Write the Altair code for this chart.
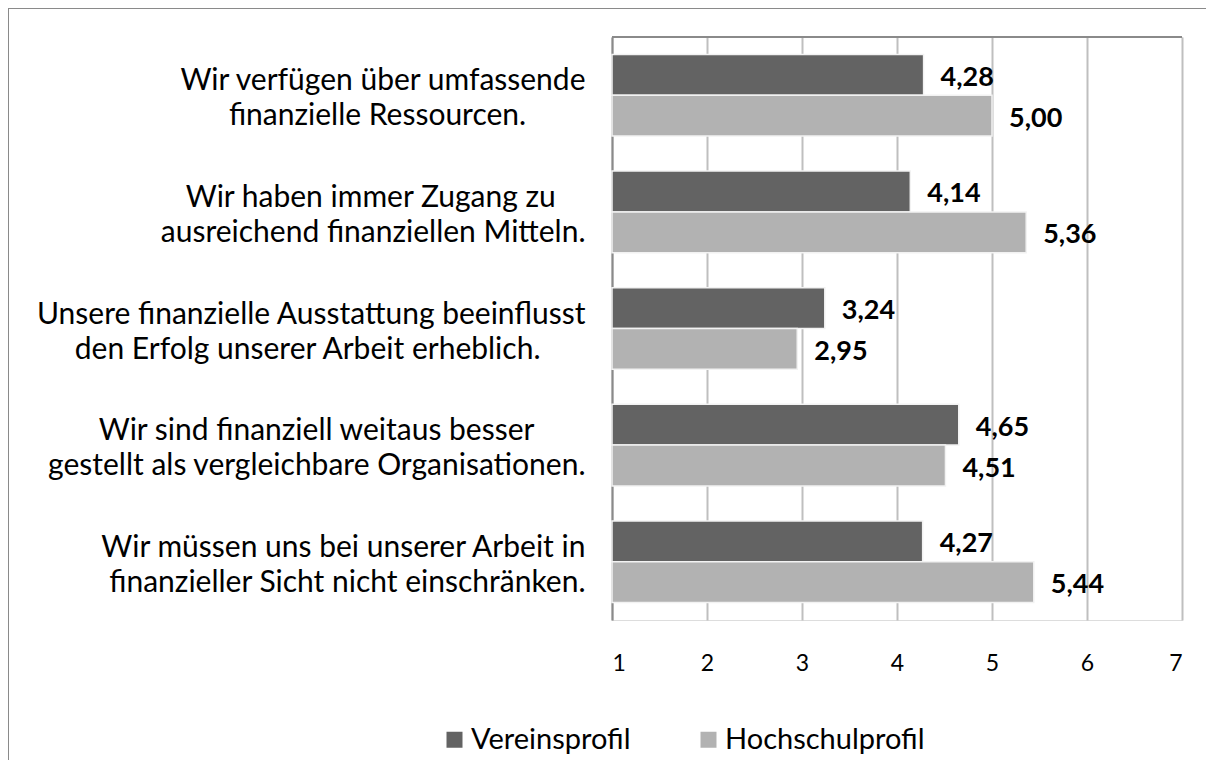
import altair as alt
import pandas as pd

# ---- data ----
statements = [
    "Wir verfügen über umfassende|finanzielle Ressourcen.",
    "Wir haben immer Zugang zu|ausreichend finanziellen Mitteln.",
    "Unsere finanzielle Ausstattung beeinflusst|den Erfolg unserer Arbeit erheblich.",
    "Wir sind finanziell weitaus besser|gestellt als vergleichbare Organisationen.",
    "Wir müssen uns bei unserer Arbeit in|finanzieller Sicht nicht einschränken.",
]
series_names = ["Vereinsprofil", "Hochschulprofil"]
verein = [4.28, 4.14, 3.24, 4.65, 4.27]
hochschul = [5.00, 5.36, 2.95, 4.51, 5.44]
x_ticks = [1, 2, 3, 4, 5, 6, 7]
series_colors = ["#636363", "#b2b2b2"]

# layout only: trailing blank characters so the two lines of each label look centred
# each entry: ((nbsp, blank) for line 1, (nbsp, blank) for line 2)
line_pad = [
    ((0, 0), (2, 2)),
    ((1, 1), (0, 0)),
    ((0, 0), (3, 1)),
    ((1, 2), (0, 0)),
    ((0, 0), (0, 0)),
]
NB, BLANK, ZW = "\u00a0", "\u2800", "\u200b"


def pad(n, m):
    if n == 0 and m == 0:
        return ""
    return NB * n + (BLANK * m if m else ZW)


def padded(s, pads):
    a, b = s.split("|")
    return a + pad(*pads[0]) + "|" + b + pad(*pads[1])


labels_txt = [padded(s, p) for s, p in zip(statements, line_pad)]

rows = []
for i, s in enumerate(labels_txt):
    rows.append({"statement": s, "series": series_names[0], "value": verein[i]})
    rows.append({"statement": s, "series": series_names[1], "value": hochschul[i]})
df = pd.DataFrame(rows)

W, H = 570, 583
FONT = "Lato"

y_enc = alt.Y(
    "statement:N",
    sort=labels_txt,
    title=None,
    scale=alt.Scale(paddingInner=0.3, paddingOuter=0.15),
    axis=alt.Axis(
        labelExpr="split(datum.label, '|')",
        labelAlign="right",
        labelBaseline="middle",
        labelFontSize=30,
        labelLineHeight=35,
        labelPadding=27,
        labelOffset=-14,
        labelColor="#000000",
        labelFont=FONT,
        ticks=False,
        domain=True,
        domainColor="#8a8a8a",
        domainWidth=2,
        grid=False,
        labelLimit=900,
    ),
)
x_enc = alt.X(
    "value:Q",
    title=None,
    scale=alt.Scale(domain=[1, 7], nice=False, zero=False),
    axis=alt.Axis(
        values=x_ticks,
        format="d",
        labelFontSize=23,
        labelFont=FONT,
        labelColor="#000000",
        labelPadding=32,
        ticks=False,
        domain=False,
        grid=True,
        gridColor="#bfbfbf",
        gridWidth=2,
    ),
)
yoff = alt.YOffset("series:N", sort=series_names)
color = alt.Color(
    "series:N",
    sort=series_names,
    scale=alt.Scale(domain=series_names, range=series_colors),
    legend=alt.Legend(
        title=None,
        orient="none",
        legendX=-172,
        legendY=688,
        direction="horizontal",
        symbolType="square",
        symbolSize=256,
        symbolStrokeWidth=0,
        symbolOpacity=1,
        labelFontSize=29,
        labelFont=FONT,
        labelColor="#000000",
        labelOffset=2,
        labelLimit=400,
        columnPadding=63,
    ),
)

base = alt.Chart(df)

bars = base.mark_bar(stroke="#f2f2f2", strokeWidth=1.5).encode(
    x=x_enc, x2=alt.datum(1), y=y_enc, yOffset=yoff, color=color
)
labels = base.transform_calculate(
    lbl="replace(format(datum.value, '.2f'), '.', ',')"
).mark_text(
    align="left", baseline="middle", dx=17, dy=3, fontSize=27, fontWeight="bold",
    font=FONT, color="#000000"
).encode(x="value:Q", y=alt.Y("statement:N", sort=labels_txt), yOffset=yoff, text="lbl:N")

one = pd.DataFrame({"k": [0]})
top_border = alt.Chart(one).mark_rule(color="#8a8a8a", strokeWidth=2).encode(
    x=alt.value(0), x2=alt.value(W), y=alt.value(0)
)
outer_top = alt.Chart(one).mark_rule(color="#8a8a8a", strokeWidth=2).encode(
    x=alt.value(-604), x2=alt.value(W + 60), y=alt.value(-29)
)
outer_left = alt.Chart(one).mark_rule(color="#8a8a8a", strokeWidth=2).encode(
    x=alt.value(-604), y=alt.value(-29), y2=alt.value(H + 200)
)

chart = (
    alt.layer(bars, labels, top_border, outer_top, outer_left)
    .properties(
        width=W,
        height=H,
        autosize=alt.AutoSizeParams(type="none"),
        padding={"left": 604, "top": 29, "right": 24, "bottom": 140},
    )
    .configure_view(stroke=None)
    .configure(font=FONT)
)

chart.save("out.html", embed_options={"renderer": "svg", "actions": False})
